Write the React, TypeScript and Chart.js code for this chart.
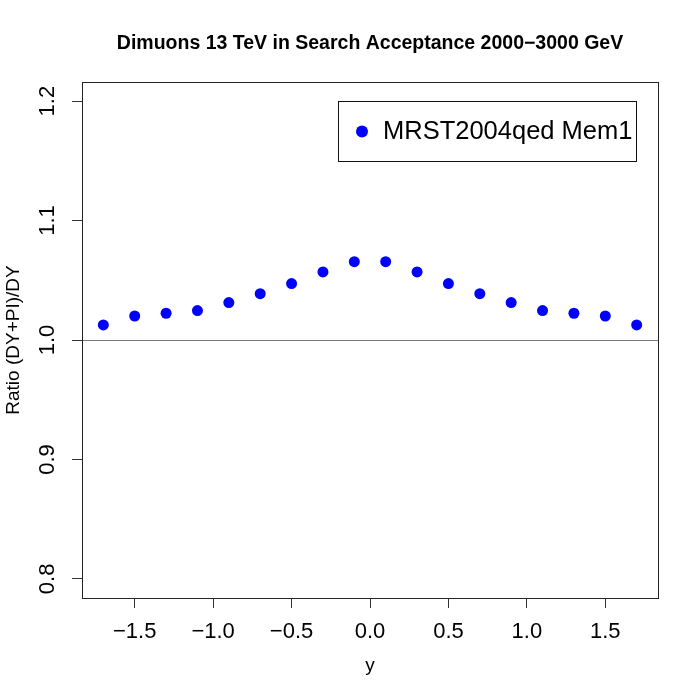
import React, { useEffect, useRef } from "react";
import { Chart, registerables } from "chart.js";

Chart.register(...registerables);

const rapidity: number[] = [-1.7, -1.5, -1.3, -1.1, -0.9, -0.7, -0.5, -0.3, -0.1, 0.1, 0.3, 0.5, 0.7, 0.9, 1.1, 1.3, 1.5, 1.7];
const ratio: number[] = [1.0126, 1.0201, 1.0224, 1.0246, 1.0313, 1.0388, 1.0472, 1.057, 1.0656, 1.0656, 1.057, 1.0472, 1.0388, 1.0313, 1.0246, 1.0224, 1.0201, 1.0126];
const xTicks: number[] = [-1.5, -1.0, -0.5, 0.0, 0.5, 1.0, 1.5];
const yTicks: number[] = [0.8, 0.9, 1.0, 1.1, 1.2];
const xRange: number[] = [-1.836, 1.836];
const yRange: number[] = [0.784, 1.216];
const refLine = 1.0;

const titleText = "Dimuons 13 TeV in Search Acceptance 2000\u22123000 GeV";
const xLabel = "y";
const yLabel = "Ratio (DY+PI)/DY";
const seriesLabel = "MRST2004qed Mem1";

const FONT = "'Liberation Sans', Arial, Helvetica, sans-serif";
const fmt = (v: number) => {
  const s = Math.abs(v).toFixed(1);
  return v < 0 ? "\u2212" + s : s;
};

const rPlot = {
  id: "rPlot",
  beforeDatasetsDraw(chart: any) {
    const { ctx, chartArea } = chart;
    const ys = chart.scales.y;
    const py = Math.round(ys.getPixelForValue(refLine)) + 0.5;
    ctx.save();
    ctx.strokeStyle = "#7a7a7a";
    ctx.lineWidth = 1;
    ctx.beginPath();
    ctx.moveTo(chartArea.left, py);
    ctx.lineTo(chartArea.right, py);
    ctx.stroke();
    ctx.restore();
  },
  afterDraw(chart: any) {
    const { ctx, chartArea } = chart;
    const xs = chart.scales.x;
    const ys = chart.scales.y;
    ctx.save();
    ctx.strokeStyle = "#222";
    ctx.lineWidth = 1;
    ctx.strokeRect(Math.round(chartArea.left) + 0.5, Math.round(chartArea.top) + 0.5,
      Math.round(chartArea.right - chartArea.left), Math.round(chartArea.bottom - chartArea.top));

    ctx.fillStyle = "#000";
    ctx.font = `22px ${FONT}`;
    ctx.textAlign = "center";
    ctx.textBaseline = "middle";
    xTicks.forEach((v) => {
      ctx.fillText(fmt(v), xs.getPixelForValue(v), 632);
    });
    yTicks.forEach((v) => {
      ctx.save();
      ctx.translate(48, ys.getPixelForValue(v));
      ctx.rotate(-Math.PI / 2);
      ctx.fillText(fmt(v), 0, 0);
      ctx.restore();
    });
    ctx.font = `19px ${FONT}`;
    ctx.fillText(xLabel, (chartArea.left + chartArea.right) / 2, 666);
    ctx.save();
    ctx.translate(14, (chartArea.top + chartArea.bottom) / 2);
    ctx.rotate(-Math.PI / 2);
    ctx.fillText(yLabel, 0, 0);
    ctx.restore();
    ctx.font = `bold 19.5px ${FONT}`;
    ctx.fillText(titleText, (chartArea.left + chartArea.right) / 2, 44);

    const lx = 338, ly = 101, lw = 298, lh = 60;
    ctx.strokeStyle = "#111";
    ctx.strokeRect(lx + 0.5, ly + 0.5, lw, lh);
    ctx.fillStyle = "#0000ff";
    ctx.beginPath();
    ctx.arc(362, 131.5, 6, 0, Math.PI * 2);
    ctx.fill();
    ctx.fillStyle = "#000";
    ctx.font = `25.5px ${FONT}`;
    ctx.textAlign = "left";
    ctx.fillText(seriesLabel, 383, 132);
    ctx.restore();
  },
};

export default function App() {
  const ref = useRef<HTMLCanvasElement>(null);
  useEffect(() => {
    if (!ref.current) return;
    const chart = new Chart(ref.current, {
      type: "scatter",
      data: {
        datasets: [
          {
            label: seriesLabel,
            data: rapidity.map((x, i) => ({ x, y: ratio[i] })),
            backgroundColor: "#0000ff",
            borderColor: "#0000ff",
            borderWidth: 0,
            pointRadius: 5.5,
            pointHoverRadius: 5.5,
          },
        ],
      },
      options: {
        responsive: false,
        animation: false,
        events: [],
        layout: { padding: { top: 82, right: 42, left: 0, bottom: 0 } },
        plugins: { legend: { display: false }, title: { display: false }, tooltip: { enabled: false } },
        scales: {
          x: {
            type: "linear",
            min: xRange[0],
            max: xRange[1],
            afterBuildTicks: (s: any) => { s.ticks = xTicks.map((v) => ({ value: v })); },
            afterFit: (s: any) => { s.height = 102; },
            border: { display: false },
            grid: { drawOnChartArea: false, drawTicks: true, tickLength: 10, color: "#333", lineWidth: 1 },
            ticks: { display: false },
          },
          y: {
            type: "linear",
            min: yRange[0],
            max: yRange[1],
            afterBuildTicks: (s: any) => { s.ticks = yTicks.map((v) => ({ value: v })); },
            afterFit: (s: any) => { s.width = 82; },
            border: { display: false },
            grid: { drawOnChartArea: false, drawTicks: true, tickLength: 10, color: "#333", lineWidth: 1 },
            ticks: { display: false },
          },
        },
      },
      plugins: [rPlot],
    });
    return () => chart.destroy();
  }, []);
  return (
    <div style={{ position: "fixed", left: 0, top: 0, width: 700, height: 700, background: "#fff" }}>
      <canvas ref={ref} width={700} height={700} style={{ display: "block" }} />
    </div>
  );
}
